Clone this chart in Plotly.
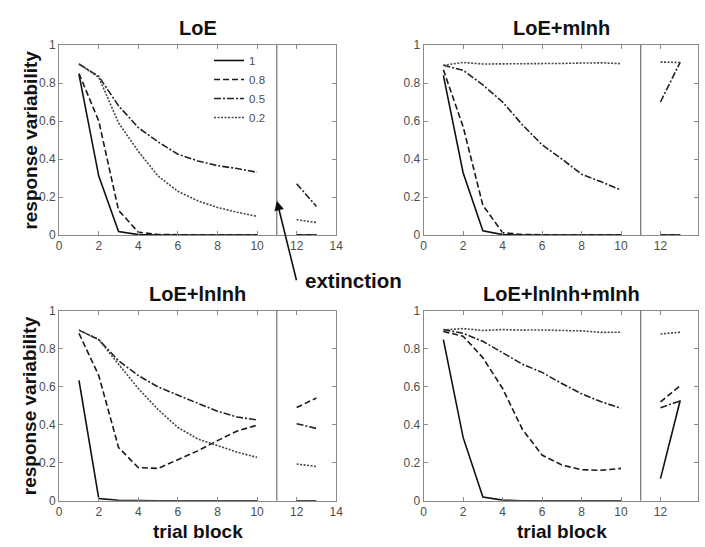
import plotly.graph_objects as go

# ---------------- data ----------------
acq_blocks = [1, 2, 3, 4, 5, 6, 7, 8, 9, 10]
ext_blocks = [12, 13]
series_names = ["1", "0.8", "0.5", "0.2"]
panel_titles = ["LoE", "LoE+mInh", "LoE+lnInh", "LoE+lnInh+mInh"]

# LoE
loe_1 = [0.845, 0.31, 0.018, 0.002, 0, 0, 0, 0, 0, 0]
loe_1_ext = [0.0, 0.0]
loe_08 = [0.85, 0.60, 0.13, 0.015, 0.003, 0, 0, 0, 0, 0]
loe_08_ext = [0.0, 0.0]
loe_05 = [0.90, 0.835, 0.68, 0.565, 0.49, 0.425, 0.39, 0.365, 0.35, 0.33]
loe_05_ext = [0.27, 0.15]
loe_02 = [0.90, 0.83, 0.59, 0.44, 0.31, 0.23, 0.18, 0.145, 0.12, 0.098]
loe_02_ext = [0.08, 0.066]

# LoE+mInh
m_1 = [0.84, 0.328, 0.022, 0.002, 0, 0, 0, 0, 0, 0]
m_1_ext = [0.0, 0.0]
m_08 = [0.87, 0.57, 0.157, 0.012, 0.003, 0, 0, 0, 0, 0]
m_08_ext = [0.0, 0.0]
m_05 = [0.893, 0.867, 0.79, 0.70, 0.58, 0.475, 0.40, 0.32, 0.28, 0.236]
m_05_ext = [0.70, 0.91]
m_02 = [0.893, 0.908, 0.90, 0.90, 0.90, 0.902, 0.903, 0.905, 0.906, 0.902]
m_02_ext = [0.91, 0.908]

# LoE+lnInh
ln_1 = [0.633, 0.012, 0.002, 0, 0, 0, 0, 0, 0, 0]
ln_1_ext = [0.0, 0.0]
ln_08 = [0.88, 0.658, 0.28, 0.174, 0.17, 0.214, 0.262, 0.316, 0.367, 0.397]
ln_08_ext = [0.49, 0.54]
ln_05 = [0.897, 0.847, 0.736, 0.658, 0.598, 0.556, 0.513, 0.47, 0.44, 0.425]
ln_05_ext = [0.405, 0.38]
ln_02 = [0.897, 0.847, 0.718, 0.59, 0.479, 0.385, 0.325, 0.29, 0.255, 0.228]
ln_02_ext = [0.193, 0.18]

# LoE+lnInh+mInh
lm_1 = [0.847, 0.333, 0.02, 0.003, 0, 0, 0, 0, 0, 0]
lm_1_ext = [0.116, 0.528]
lm_08 = [0.89, 0.865, 0.752, 0.59, 0.376, 0.24, 0.188, 0.163, 0.16, 0.17]
lm_08_ext = [0.52, 0.605]
lm_05 = [0.90, 0.88, 0.838, 0.778, 0.718, 0.675, 0.616, 0.562, 0.52, 0.486]
lm_05_ext = [0.489, 0.525]
lm_02 = [0.898, 0.905, 0.895, 0.90, 0.897, 0.898, 0.895, 0.893, 0.885, 0.886]
lm_02_ext = [0.877, 0.886]

x_ticks = [0, 2, 4, 6, 8, 10, 12, 14]
y_ticks = [0, 0.2, 0.4, 0.6, 0.8, 1]
y_tick_text = ["0", "0.2", "0.4", "0.6", "0.8", "1"]
extinction_block = 11

panels = [
    [(loe_1, loe_1_ext), (loe_08, loe_08_ext), (loe_05, loe_05_ext), (loe_02, loe_02_ext)],
    [(m_1, m_1_ext), (m_08, m_08_ext), (m_05, m_05_ext), (m_02, m_02_ext)],
    [(ln_1, ln_1_ext), (ln_08, ln_08_ext), (ln_05, ln_05_ext), (ln_02, ln_02_ext)],
    [(lm_1, lm_1_ext), (lm_08, lm_08_ext), (lm_05, lm_05_ext), (lm_02, lm_02_ext)],
]

# ---------------- styling ----------------
W, H = 705, 547
FONT = "Liberation Sans, Arial, sans-serif"
dashes = ["solid", "6px,3px", "7px,2px,2px,2px", "2px,1.5px"]
widths = [1.6, 1.6, 1.6, 1.6]
colors = ["#111111", "#1a1a1a", "#222222", "#444444"]

# pixel layout of the four axes (left, right, top, bottom)
px_boxes = [
    (57, 338, 39, 234),
    (426.7, 705, 39, 234),
    (57, 338, 311.5, 506.7),
    (426.7, 705, 311.5, 506.7),
]
x_full_range = [0, 14]
right_range_end = 14 * (705 - 426.7) / (707 - 426.7)

fig = go.Figure()
layout = dict(
    width=W, height=H,
    margin=dict(l=0, r=0, t=0, b=0),
    paper_bgcolor="white", plot_bgcolor="white",
    font=dict(family=FONT, color="#4d4d4d", size=12),
    showlegend=True,
    legend=dict(x=209 / W, y=1 - 40 / H, xanchor="left", yanchor="top",
                bgcolor="rgba(0,0,0,0)", font=dict(size=11.5, color="#4d4d4d"),
                itemwidth=30, tracegroupgap=0),
)
shapes = []
annotations = []

for i, (data, box) in enumerate(zip(panels, px_boxes)):
    l, r, t, b = box
    idx = "" if i == 0 else str(i + 1)
    xa = "xaxis" + idx
    ya = "yaxis" + idx
    xr = x_full_range if i in (0, 2) else [0, right_range_end]
    common = dict(showline=True, linecolor="#8a8a8a", linewidth=1, mirror="ticks",
                  ticks="inside", ticklen=4, tickcolor="#8a8a8a", tickwidth=1,
                  showgrid=False, zeroline=False,
                  tickfont=dict(size=12, color="#4d4d4d", family=FONT))
    layout[xa] = dict(domain=[l / W, r / W], range=xr, anchor="y" + idx,
                      tickvals=x_ticks, **common)
    layout[ya] = dict(domain=[1 - b / H, 1 - t / H], range=[0, 1], anchor="x" + idx,
                      tickvals=y_ticks, ticktext=y_tick_text, **common)
    for s, (acq, ext) in enumerate(data):
        fig.add_trace(go.Scatter(
            x=acq_blocks + [None] + ext_blocks,
            y=acq + [None] + ext,
            mode="lines", name=series_names[s],
            line=dict(color=colors[s], width=widths[s], dash=dashes[s]),
            xaxis="x" + idx, yaxis="y" + idx,
            showlegend=(i == 0), connectgaps=False,
        ))
    shapes.append(dict(type="line", xref="x" + idx, yref="y" + idx + " domain",
                       x0=extinction_block, x1=extinction_block, y0=0, y1=1,
                       line=dict(color="#555555", width=1)))
    # panel title
    annotations.append(dict(text="<b>" + panel_titles[i] + "</b>", xref="paper", yref="paper",
                            x=((l + (r if i in (0, 2) else 707)) / 2) / W,
                            y=1 - (t - 17) / H, xanchor="center", yanchor="middle",
                            showarrow=False, font=dict(size=20, color="#111111", family=FONT)))
    if i in (0, 2):
        annotations.append(dict(text="<b>response variability</b>", xref="paper", yref="paper",
                                x=27 / W, y=1 - ((t + b) / 2) / H, textangle=-90,
                                xanchor="center", yanchor="middle", showarrow=False,
                                font=dict(size=19, color="#111111", family=FONT)))
    if i in (2, 3):
        annotations.append(dict(text="<b>trial block</b>", xref="paper", yref="paper",
                                x=((l + (r if i == 2 else 707)) / 2) / W, y=1 - 538 / H,
                                xanchor="center", yanchor="middle", showarrow=False,
                                font=dict(size=19, color="#111111", family=FONT)))

# extinction arrow + label
annotations.append(dict(text="", x=extinction_block, y=0.18, xref="x", yref="y",
                        ax=20, ay=81, axref="pixel", ayref="pixel",
                        showarrow=True, arrowhead=2, arrowsize=1.2, arrowwidth=1.6,
                        arrowcolor="#111111"))
annotations.append(dict(text="<b>extinction</b>", xref="paper", yref="paper",
                        x=355.5 / W, y=1 - 281 / H, xanchor="center", yanchor="middle",
                        showarrow=False, font=dict(size=20.5, color="#111111", family=FONT)))

layout["shapes"] = shapes
layout["annotations"] = annotations
fig.update_layout(**layout)
fig.write_html(
    "out.html",
    config={"displayModeBar": False},
    post_script="document.body.style.margin='0px';document.body.style.overflow='hidden';",
)
